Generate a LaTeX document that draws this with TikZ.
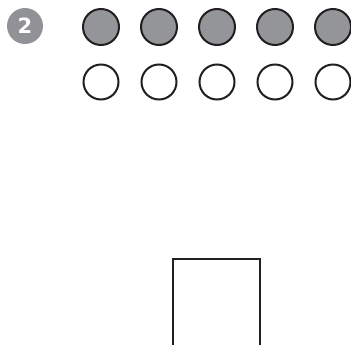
\documentclass[tikz,border=0pt]{standalone}
\usepackage{fontspec}
\newfontfamily\badgefont{DejaVu Sans}
\usepackage{tikz}
\usetikzlibrary{positioning}
\definecolor{dotgray}{RGB}{147,149,152}
\definecolor{badgegray}{RGB}{145,146,149}
\definecolor{ink}{RGB}{35,31,32}
\tikzset{
  badge/.style={circle, fill=badgegray, minimum size=36pt, inner sep=0pt,
    text=white, font=\badgefont\bfseries\fontsize{21}{21}\selectfont},
  fulldot/.style={circle, draw=ink, line width=2pt, fill=dotgray, minimum size=36pt, inner sep=0pt},
  emptydot/.style={circle, draw=ink, line width=2pt, fill=white, minimum size=35pt, inner sep=0pt},
  frame/.style={draw=ink, line width=1.6pt, minimum width=87pt, minimum height=110pt, inner sep=0pt}
}

\begin{document}
\begin{tikzpicture}[x=1pt,y=-1pt]
    \useasboundingbox (0,0) rectangle (351,345);
    \clip (0,0) rectangle (351,345);
    \node[badge] (num) at (25,26) {2};
    % two rows of five
    \foreach \i in {1,...,5} {
      \node[fulldot] (top\i) at ({101+58*(\i-1)},27) {};
      \node[emptydot] (bot\i) at ({101+58*(\i-1)},82) {};
    }
    \node[frame, anchor=north west] (box) at (172,258) {};
  \end{tikzpicture}
\end{document}
